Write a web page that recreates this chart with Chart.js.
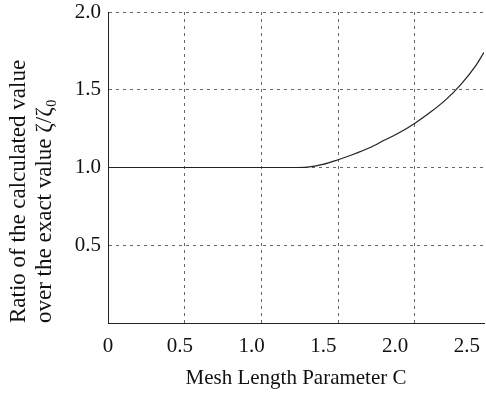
<!DOCTYPE html>
<html>
<head>
<meta charset="utf-8">
<script src="https://cdn.jsdelivr.net/npm/chart.js@4"></script>
<style>
  html, body { margin: 0; padding: 0; background: #fff; }
  #wrap { width: 486px; height: 398px; }
</style>
</head>
<body>
<div id="wrap"><canvas id="ratio-chart"></canvas></div>
<script>
// mesh length parameter C and ratio zeta / zeta0
const meshC = [0, 0.5, 1.0, 1.2, 1.3, 1.4, 1.5, 1.6, 1.7, 1.8, 1.9, 2.0, 2.1, 2.2, 2.3, 2.4, 2.45];
const zetaRatio = [1.0, 1.0, 1.0, 1.0, 1.003, 1.02, 1.05, 1.085, 1.125, 1.175, 1.225, 1.285, 1.355, 1.435, 1.535, 1.66, 1.74];

const gridX = [0, 0.5, 1.0, 1.5, 2.0];
const labelsX = [0, 0.5, 1.0, 1.5, 2.0, 2.5];
const ticksY = [0.5, 1.0, 1.5, 2.0];

const serif = 'Liberation Serif';
const ink = '#111';

const points = meshC.map((c, i) => ({ x: c, y: zetaRatio[i] }));

// keep the axes from pushing the plot area inwards
const noEdgePadding = (axis) => {
  axis.paddingTop = 0;
  axis.paddingBottom = 0;
  axis.paddingLeft = 0;
  axis.paddingRight = 0;
};

const ctx = document.getElementById('ratio-chart').getContext('2d');

const chart = new Chart(ctx, {
  type: 'line',
  data: {
    datasets: [
      {
        data: points,
        xAxisID: 'x',
        yAxisID: 'y',
        borderColor: '#222',
        borderWidth: 1.2,
        pointRadius: 0,
        cubicInterpolationMode: 'monotone',
        fill: false,
      },
    ]
  },
  options: {
    responsive: true,
    maintainAspectRatio: false,
    animation: false,
    layout: {
      padding: { top: 12, right: 2, left: 0, bottom: 0 }
    },
    plugins: {
      legend: { display: false },
      tooltip: { enabled: false },
    },
    scales: {
      x: {
        type: 'linear',
        position: 'bottom',
        min: 0,
        max: 2.45,
        afterBuildTicks: (axis) => { axis.ticks = gridX.map(v => ({ value: v })); },
        afterFit: (axis) => { axis.height = 0; noEdgePadding(axis); },
        grid: { color: '#666', lineWidth: 1, drawTicks: false },
        border: { display: true, color: '#222', width: 1, dash: [3, 4] },
        ticks: { display: false },
      },
      x2: {
        type: 'linear',
        position: 'bottom',
        min: 0,
        max: 2.62,
        afterBuildTicks: (axis) => { axis.ticks = labelsX.map(v => ({ value: v })); },
        afterFit: (axis) => { axis.height = 75; noEdgePadding(axis); },
        grid: { display: false, drawTicks: false },
        border: { display: false },
        ticks: {
          padding: 11,
          color: ink,
          font: { family: serif, size: 21 },
          callback: (v) => v === 0 ? '0' : v.toFixed(1),
        },
        title: {
          display: true,
          text: 'Mesh Length Parameter C',
          color: ink,
          font: { family: serif, size: 21 },
          padding: { top: 0, bottom: 7 },
        }
      },
      y: {
        type: 'linear',
        min: 0,
        max: 2,
        afterBuildTicks: (axis) => { axis.ticks = ticksY.map(v => ({ value: v })); },
        afterFit: (axis) => { axis.width = 108; noEdgePadding(axis); },
        grid: { color: '#666', lineWidth: 1, drawTicks: false },
        border: { display: true, color: '#222', width: 1, dash: [3, 4] },
        ticks: {
          padding: 7,
          color: ink,
          font: { family: serif, size: 21 },
          callback: (v) => v.toFixed(1),
        },
        title: {
          display: true,
          align: 'start',
          text: ['Ratio of the calculated value', 'over the exact value \u03B6/\u03B6\u2080'],
          color: ink,
          font: { family: serif, size: 23, lineHeight: 1.17 },
          padding: { top: 5, bottom: 0 },
        }
      }
    }
  }
});
</script>
</body>
</html>
